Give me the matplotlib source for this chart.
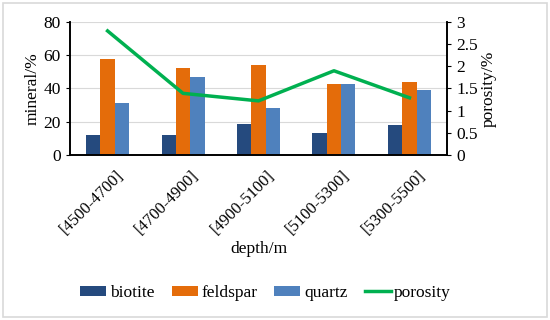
import numpy as np
import matplotlib
matplotlib.use("Agg")
import matplotlib.pyplot as plt
from matplotlib.patches import Rectangle
from matplotlib.transforms import ScaledTranslation

plt.rcParams['font.family'] = ['Liberation Serif', 'DejaVu Serif']

depths = ['[4500-4700]', '[4700-4900]', '[4900-5100]', '[5100-5300]', '[5300-5500]']
biotite = [12, 12, 18.4, 13, 17.8]
feldspar = [57.6, 52.6, 54, 42.6, 44.2]
quartz = [31, 46.8, 28.4, 42.6, 39.2]
porosity = [2.8, 1.39, 1.22, 1.9, 1.29]

fig = plt.figure(figsize=(5.5, 3.2), dpi=100)
ax = fig.add_axes([0.127, 0.516, 0.686, 0.415])
ax2 = ax.twinx()

x = np.arange(len(depths))
w = 0.19
b1 = ax.bar(x - w, biotite, w, color='#254a7e', label='biotite', zorder=2)
b2 = ax.bar(x, feldspar, w, color='#e46c0a', label='feldspar', zorder=2)
b3 = ax.bar(x + w, quartz, w, color='#4f81bd', label='quartz', zorder=2)
l1, = ax2.plot(x, porosity, color='#00b050', lw=2.5, label='porosity')

ax.set_xlim(-0.5, len(depths) - 0.5)
ax.set_ylim(0, 80)
ax.set_yticks([0, 20, 40, 60, 80])
ax2.set_ylim(0, 3)
ax2.set_yticks([0, 0.5, 1, 1.5, 2, 2.5, 3])
ax2.set_yticklabels(['0', '0.5', '1', '1.5', '2', '2.5', '3'])
ax.yaxis.grid(True, color='#d9d9d9', lw=0.8, zorder=0)
ax.set_axisbelow(True)

ax.set_xticks(x)
ax.set_xticklabels(depths, rotation=45, ha='right', rotation_mode='anchor')
ax.tick_params(axis='x', length=0, labelsize=12, pad=9)
ax.tick_params(axis='y', labelsize=12.5, length=3, direction='out')
ax2.tick_params(axis='y', labelsize=12.5, length=3, direction='out')
shift = ScaledTranslation(0.08, 0, fig.dpi_scale_trans)
for lbl in ax.get_xticklabels():
    lbl.set_transform(lbl.get_transform() + shift)

for a in (ax, ax2):
    a.spines['top'].set_visible(False)
    for s in ('left', 'right', 'bottom'):
        a.spines[s].set_linewidth(1.2)

ax.set_ylabel('mineral/%', fontsize=12.5, labelpad=2)
ax2.set_ylabel('porosity/%', fontsize=12.5, labelpad=2)
fig.text(0.47, 0.222, 'depth/m', fontsize=12.5, ha='center', va='center')

fig.legend([b1, b2, b3, l1], ['biotite', 'feldspar', 'quartz', 'porosity'],
           loc='center', bbox_to_anchor=(0.483, 0.085), ncol=4, frameon=False,
           fontsize=12.5, handlelength=1.5, handleheight=0.5, columnspacing=1.0,
           handletextpad=0.2)

fig.patches.append(Rectangle((0.006, 0.01), 0.988, 0.98, transform=fig.transFigure,
                             fill=False, edgecolor='#d9d9d9', lw=1.2))

fig.savefig('out.png', dpi=100)
